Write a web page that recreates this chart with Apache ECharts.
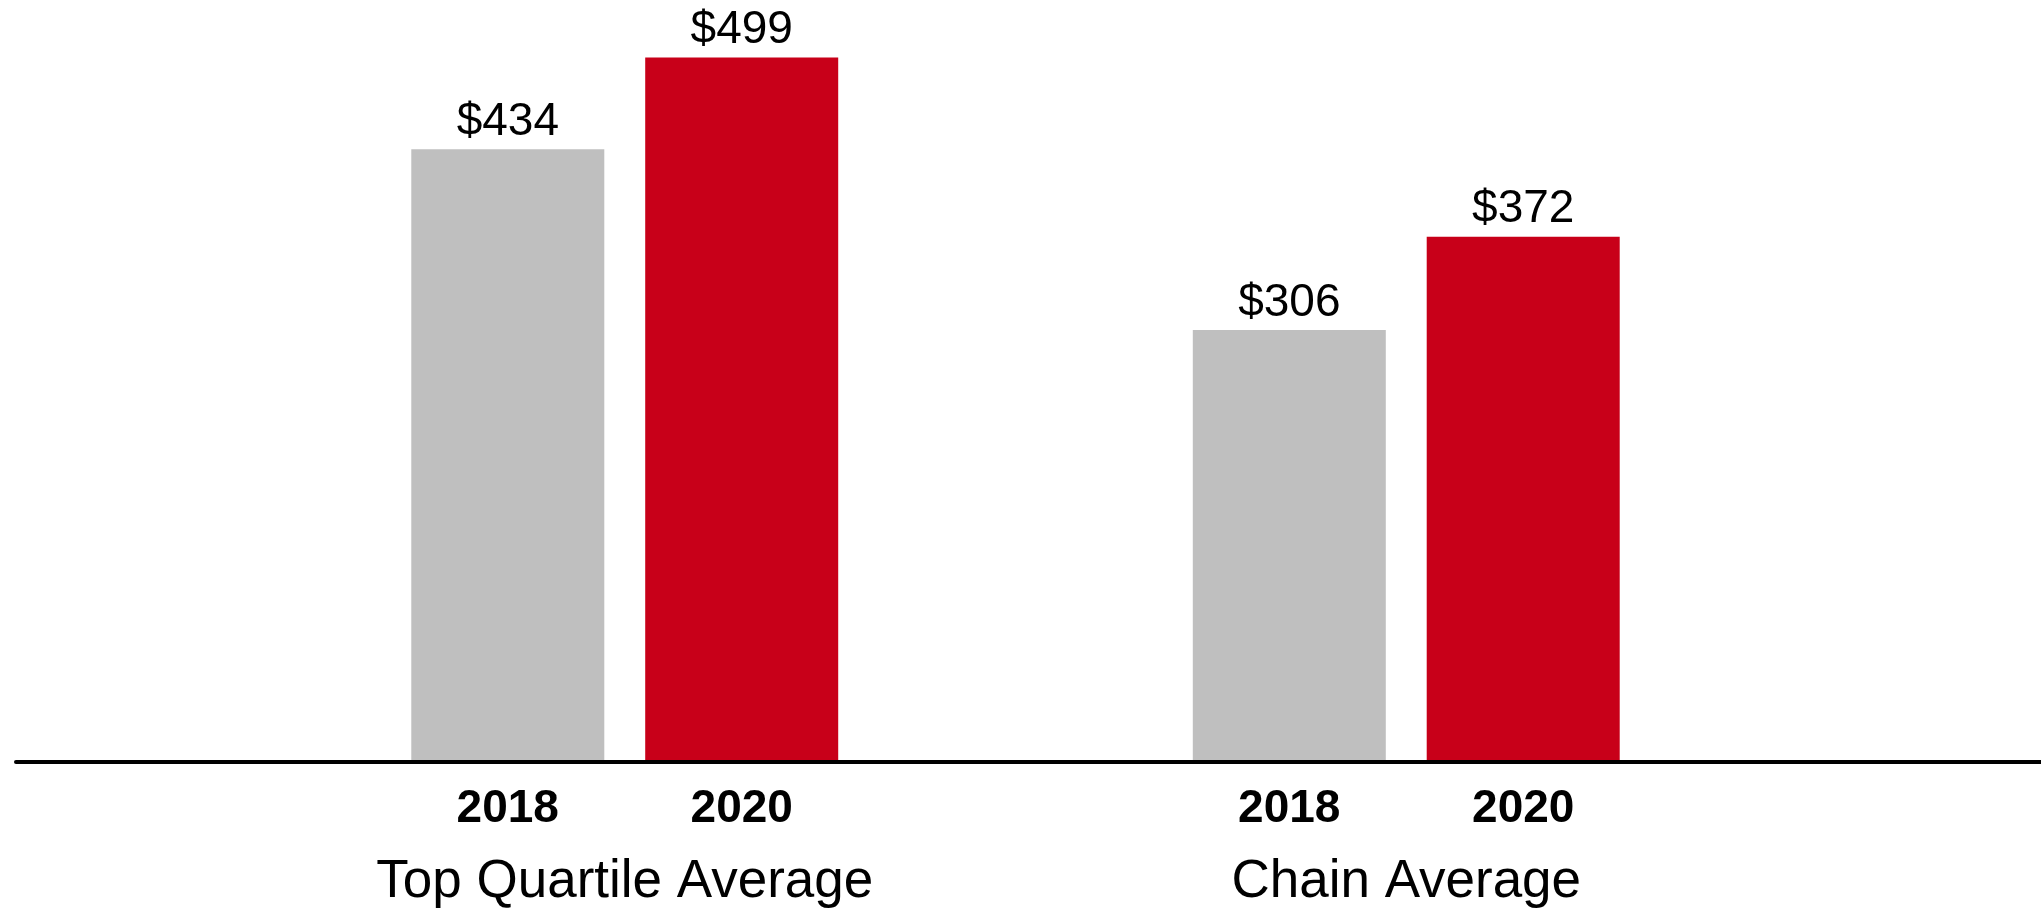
<!DOCTYPE html>
<html>
<head>
<meta charset="utf-8">
<style>
  html, body { margin: 0; padding: 0; background: #ffffff; }
  #chart { width: 2041px; height: 909px; }
</style>
<script src="https://cdn.jsdelivr.net/npm/echarts@6/dist/echarts.min.js"></script>
</head>
<body>
<div id="chart"></div>
<script>
const categories = ['Top Quartile Average', 'Chain Average'];
const years = ['2018', '2020'];
const values2018 = [434, 306];
const values2020 = [499, 372];
const seriesColors = ['#BFBFBF', '#C80019'];

const FONT = '"Liberation Sans", Arial, Helvetica, sans-serif';
const chart = echarts.init(document.getElementById('chart'), null, { renderer: 'canvas' });

const valueLabel = {
  show: true,
  position: 'top',
  distance: 4,
  color: '#000000',
  fontFamily: FONT,
  fontSize: 46,
  formatter: (p) => '$' + p.value
};

chart.setOption({
  animation: false,
  backgroundColor: '#ffffff',
  grid: [
    { left: 234, right: 244, top: 56, bottom: 147 },
    { left: 16, right: 0, top: 56, bottom: 147 }
  ],
  xAxis: [
    {
      type: 'category',
      gridIndex: 0,
      data: categories,
      axisLine: { show: false },
      axisTick: { show: false },
      axisLabel: {
        margin: 11,
        color: '#000000',
        fontFamily: FONT,
        interval: 0,
        formatter: (v) => years.map(y => '{y|' + y + '}').join('') + '\n{c|' + v + '}',
        rich: {
          y: { width: 234, align: 'center', fontSize: 46, fontWeight: 'bold', lineHeight: 72, fontFamily: FONT, color: '#000000' },
          c: { fontSize: 53, lineHeight: 75, fontFamily: FONT, color: '#000000' }
        }
      }
    },
    {
      type: 'value',
      gridIndex: 1,
      min: 0,
      max: 1,
      z: 10,
      axisLine: { show: true, onZero: false, lineStyle: { color: '#000000', width: 4 } },
      axisTick: { show: false },
      axisLabel: { show: false },
      splitLine: { show: false }
    }
  ],
  yAxis: [
    {
      type: 'value',
      gridIndex: 0,
      min: 0,
      max: 500,
      show: false,
      splitLine: { show: false }
    },
    {
      type: 'value',
      gridIndex: 1,
      min: 0,
      max: 1,
      show: false,
      splitLine: { show: false }
    }
  ],
  series: [
    {
      name: years[0],
      type: 'bar',
      xAxisIndex: 0,
      yAxisIndex: 0,
      data: values2018,
      barWidth: 193,
      barGap: '21.2%',
      itemStyle: { color: seriesColors[0] },
      label: valueLabel
    },
    {
      name: years[1],
      type: 'bar',
      xAxisIndex: 0,
      yAxisIndex: 0,
      data: values2020,
      barWidth: 193,
      barGap: '21.2%',
      itemStyle: { color: seriesColors[1] },
      label: valueLabel
    }
  ]
});
</script>
</body>
</html>
